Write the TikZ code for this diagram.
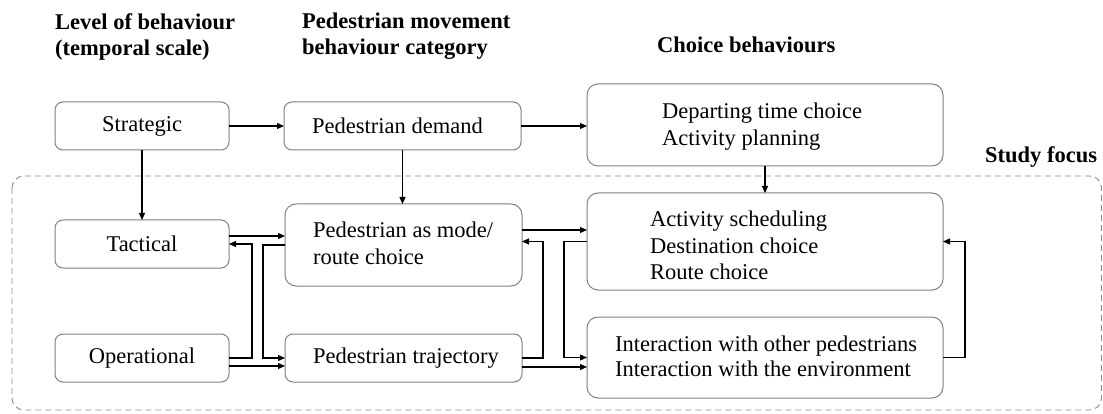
\documentclass[tikz,border=0pt]{standalone}
\usepackage{fontspec}
\setmainfont{Liberation Serif}
\usetikzlibrary{arrows.meta,calc}
\definecolor{boxgray}{RGB}{128,128,128}
\definecolor{dashgray}{RGB}{140,140,140}
\begin{document}
\begin{tikzpicture}[x=1pt,y=-1pt,
  box/.style={draw=boxgray, line width=1pt, rounded corners=#1, anchor=north west,
              inner sep=0pt, outer sep=0pt},
  box/.default=8pt,
  lbl/.style={inner sep=0pt, align=left, font=\fontsize{22.5}{27}\selectfont},
  head/.style={inner sep=0pt, align=left, anchor=west, font=\fontsize{22.5}{26}\selectfont\bfseries},
  arr/.style={line width=1.2pt, -{Triangle[length=7pt,width=6pt]}},
  focusline/.style={draw=dashgray, line width=0.9pt, dash pattern=on 6pt off 4pt, rounded corners=12pt}]
\useasboundingbox (0,0) rectangle (1103,414);

% column headings
\node[head] (h1) at (55,36.5) {Level of behaviour\\(temporal scale)};
\node[head] (h2) at (302,36.5) {Pedestrian movement\\behaviour category};
\node[head] (h3) at (657,45) {Choice behaviours};
\node[head] (h4) at (985,157) {Study focus};

% study focus region
\draw[focusline] (12,176) rectangle (1101.5,410);

% boxes
\node[box, minimum width=174pt, minimum height=48pt] (strat) at (55,102) {};
\node[box, minimum width=237pt, minimum height=48pt] (demand) at (284,102) {};
\node[box=11pt, minimum width=356pt, minimum height=82pt] (depart) at (587,84) {};
\node[box, minimum width=174pt, minimum height=48pt] (tact) at (55,220) {};
\node[box, minimum width=174pt, minimum height=48pt] (oper) at (55,334) {};
\node[box=11pt, minimum width=237pt, minimum height=82pt] (mode) at (285,204) {};
\node[box, minimum width=237pt, minimum height=48pt] (traj) at (285,334) {};
\node[box=11pt, minimum width=356pt, minimum height=97pt] (act) at (587,193) {};
\node[box=11pt, minimum width=356pt, minimum height=81pt] (inter) at (587,317) {};

% box texts
\node[lbl] (t-strat) at (strat.center) {Strategic};
\node[lbl] (t-tact) at (tact.center) {Tactical};
\node[lbl] (t-oper) at (oper.center) {Operational};
\node[lbl, anchor=west] (t-demand) at (312,126) {Pedestrian demand};
\node[lbl, anchor=west] (t-depart) at (662,127) {Departing time choice\\Activity planning};
\node[lbl, anchor=west] (t-mode) at (313,243.5) {Pedestrian as mode/\\route choice};
\node[lbl, anchor=west] (t-traj) at (313,358) {Pedestrian trajectory};
\node[lbl, anchor=west, font=\fontsize{22.5}{26.5}\selectfont] (t-act) at (650,245.5) {Activity scheduling\\Destination choice\\Route choice};
\node[lbl, anchor=west, font=\fontsize{22.5}{25.5}\selectfont] (t-inter) at (615,356.5) {Interaction with other pedestrians\\Interaction with the environment};

% connectors
\draw[arr] (strat) -- (demand);
\draw[arr] (demand.east) -- (demand.east -| depart.west);
\draw[arr] (strat) -- (tact);
\draw[arr] (demand.south) -- (demand.south |- mode.north);
\draw[arr] (depart) -- (act);

\draw[arr] ($(tact.east)+(0,-8)$) -- ($(tact.east -| mode.west)+(0,-8)$);
\draw[arr] (oper.east) -- ++(23,0) |- (tact.east);
\draw[arr] (mode.west) -- ++(-22,0) |- (traj.west);
\draw[arr] ($(oper.east)+(0,8)$) -- ($(oper.east -| traj.west)+(0,8)$);

\draw[arr] ($(mode.east)+(0,-15)$) -- ($(mode.east -| act.west)+(0,-15)$);
\draw[arr] (traj.east) -- ++(21,0) |- (mode.east |- act.west);
\draw[arr] (act.west) -- ++(-23,0) |- (inter.west);
\draw[arr] ($(traj.east)+(0,9)$) -- ($(traj.east -| inter.west)+(0,9)$);

\draw[arr] (inter.east) -- ++(22,0) |- (act.east);
\end{tikzpicture}
\end{document}
